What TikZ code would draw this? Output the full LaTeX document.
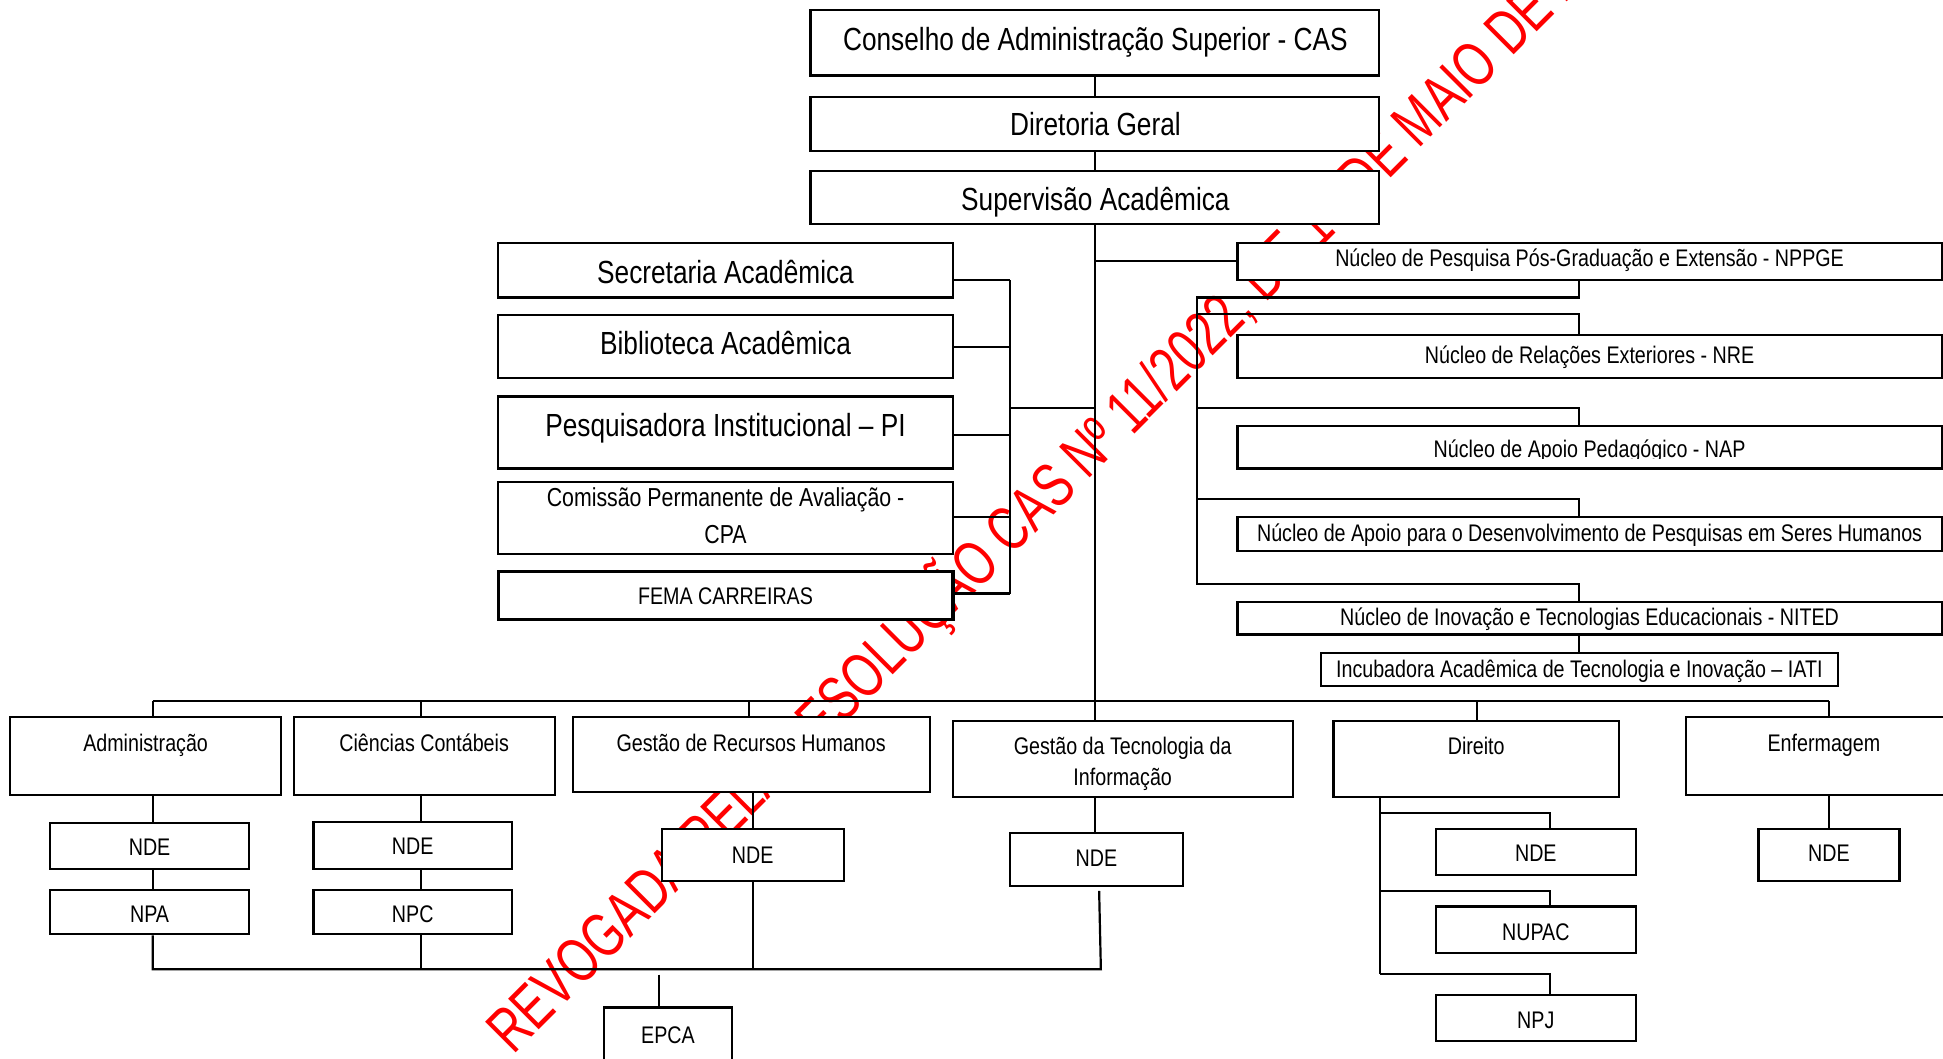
\documentclass[tikz,border=0pt]{standalone}
\usepackage{fontspec}
\setmainfont[FakeStretch=0.82]{Liberation Sans}
\newfontfamily\wmfont[FakeStretch=0.73]{Liberation Sans}
\usetikzlibrary{fit}
\newcommand\FszL{\fontsize{32bp}{38bp}\selectfont}
\newcommand\FszM{\fontsize{26bp}{31bp}\selectfont}
\newcommand\FszS{\fontsize{24bp}{29bp}\selectfont}
\newcommand\FszW{\wmfont\fontsize{63bp}{68bp}\selectfont}
\begin{document}
\begin{tikzpicture}[x=1.2392bp, y=-1.2392bp,
  box/.style={draw, line width=2.2bp, fill=white, inner sep=0pt},
  thickbox/.style={box, line width=3.2bp},
  conn/.style={line width=2.2bp},
  lblL/.style={inner sep=0pt, anchor=center, font=\FszL, text height=22.9bp, text depth=0pt},
  lblM/.style={inner sep=0pt, anchor=center, font=\FszM, text height=18.6bp, text depth=0pt},
  lblS/.style={inner sep=0pt, anchor=center, font=\FszS, text height=17.2bp, text depth=0pt},
]
\useasboundingbox (0,0) rectangle (1568,854);
\clip (0,0) rectangle (1568,854);

% watermark
\node[text=red, font=\FszW, inner sep=0pt, anchor=base west, rotate=45] (wm) at (414,852)
  {REVOGADA PELA RESOLUÇÃO CAS Nº 11/2022, DE 10 DE MAIO DE 2022};

% top
\node[box, fit={(654,8) (1113,61)}] (cas) {};
\node[box, fit={(654,78) (1113,122)}] (dg) {};
\node[box, fit={(654,138) (1113,181)}] (sa) {};

% left group
\node[box, fit={(402,196) (769,240)}] (sec) {};
\node[box, fit={(402,254) (769,305)}] (bib) {};
\node[box, fit={(402,320) (769,378)}] (pi) {};
\node[box, fit={(402,389) (769,447)}] (cpa) {};
\node[thickbox, fit={(402,461) (769,500)}] (fema) {};

% right group
\node[box, fit={(998.6,195.8) (1567,226)}] (nppge) {};
\node[box, fit={(998.6,270.5) (1567,305)}] (nre) {};
\node[box, fit={(998.6,343.5) (1567,378)}] (nap) {};
\node[box, fit={(998.6,417) (1567,444.5)}] (nadp) {};
\node[box, fit={(998.6,485.5) (1567,512)}] (nited) {};
\node[box, fit={(1066,527) (1483,553.6)}] (iati) {};

% courses
\node[box, fit={(8.3,578.3) (227,641.6)}] (adm) {};
\node[box, fit={(40.4,664) (201,701.5)}] (admN) {};
\node[box, fit={(40.4,718.2) (201,754)}] (npa) {};
\node[box, fit={(237,578.3) (447.8,641.6)}] (cc) {};
\node[box, fit={(253,663.6) (413.2,701)}] (ccN) {};
\node[box, fit={(253,718) (413.2,754)}] (npc) {};
\node[box, fit={(462.2,578.9) (750.4,639.1)}] (grh) {};
\node[box, fit={(534,668.7) (680.9,711)}] (grhN) {};
\node[box, fit={(768.8,581.6) (1043.2,643.2)}] (gti) {};
\node[box, fit={(815,672.2) (954.7,714.7)}] (gtiN) {};
\node[box, fit={(487.4,813) (590.7,880)}] (epca) {};
\node[box, fit={(1076.2,581.6) (1306.5,643.4)}] (dir) {};
\node[box, fit={(1158.8,668.7) (1320,706.4)}] (dirN) {};
\node[box, fit={(1158.8,731.6) (1320,769.3)}] (nupac) {};
\node[box, fit={(1158.8,803) (1320,839.8)}] (npj) {};
\node[box, fit={(1360.8,578.9) (1580,641.6)}] (enf) {};
\node[box, fit={(1419.1,668.7) (1532.9,711)}] (enfN) {};

% connectors top
\draw[conn] (cas.south) -- (dg.north);
\draw[conn] (dg.south) -- (sa.north);
\draw[conn] (sa.south) -- (sa.south |- gti.north);
\draw[conn] (sa.south |- nppge.west) -- (nppge.west);

% left group connectors
\coordinate (LV) at (815,226);
\coordinate (Lbib) at (815,280);
\coordinate (Lpi) at (815,351);
\coordinate (Lcpa) at (815,417);
\coordinate (LVb) at (815,479);
\coordinate (Lmid) at (815,329);
\draw[conn] (LV) -- (LVb);
\draw[conn] (sec.east |- LV) -- (LV);
\draw[conn] (bib.east |- Lbib) -- (Lbib);
\draw[conn] (pi.east |- Lpi) -- (Lpi);
\draw[conn] (cpa.east |- Lcpa) -- (Lcpa);
\draw[conn] (fema.east |- LVb) -- (LVb);
\draw[conn] (Lmid) -- (sa.south |- Lmid);

% right group connectors
\coordinate (Rtop) at (1274,240);
\coordinate (RV1) at (966,240);
\coordinate (RV2) at (966,471);
\draw[conn] (nppge.south -| Rtop) -- (Rtop) -- (RV1) -- (RV2) -- (RV2 -| Rtop) -- (nited.north -| Rtop);
\foreach \yy/\nn in {253.5/nre, 329/nap, 402.4/nadp}
  \draw[conn] (966,\yy) -- (1274,\yy) coordinate (tmp) -- (tmp |- \nn.north);
\draw[conn] (nited.south -| Rtop) -- (iati.north -| Rtop);

% bus
\coordinate (BL) at (123.2,565.7);
\coordinate (BR) at (1476,565.7);
\draw[conn] (BL) -- (BR);
\coordinate (LB) at (123.2,782.2);
\coordinate (LBr) at (888.4,782.2);
\coordinate (gtiNb) at (887,719);
\draw[conn] (BL) -- (BL |- adm.north);
\draw[conn] (BL |- adm.south) -- (BL |- admN.north);
\draw[conn] (BL |- admN.south) -- (BL |- npa.north);
\draw[conn] (BL |- npa.south) -- (LB) -- (LBr) -- (gtiNb);
\coordinate (ccX) at (339.7,565.7);
\draw[conn] (ccX) -- (ccX |- cc.north);
\draw[conn] (ccX |- cc.south) -- (ccX |- ccN.north);
\draw[conn] (ccX |- ccN.south) -- (ccX |- npc.north);
\draw[conn] (ccX |- npc.south) -- (ccX |- LB);
\coordinate (grhX) at (604.2,565.7);
\draw[conn] (grhX) -- (grhX |- grh.north);
\draw[conn] (grhN.north |- grh.south) -- (grhN.north);
\draw[conn] (grhN.south) -- (grhN.south |- LB);
\draw[conn] (sa.south |- gti.south) -- (sa.south |- gtiN.north);
\coordinate (epT) at (531.8,786.5);
\draw[conn] (epT) -- (epT |- epca.north);
\coordinate (dirX) at (1192,565.7);
\draw[conn] (dirX) -- (dirX |- dir.north);
\coordinate (DV) at (1113.6,786);
\draw[conn] (DV |- dir.south) -- (DV);
\foreach \yy/\nn in {656.3/dirN, 719/nupac, 786/npj}
  \draw[conn] (1113.6,\yy) -- (1250.8,\yy) coordinate (tmp) -- (tmp |- \nn.north);
\draw[conn] (BR) -- (BR |- enf.north);
\draw[conn] (BR |- enf.south) -- (BR |- enfN.north);

% texts
\node[lblL] (casT) at (884,31.5) {Conselho de Administração Superior - CAS};
\node[lblL] (dgT) at (884,100.1) {Diretoria Geral};
\node[lblL] (saT) at (884,160.6) {Supervisão Acadêmica};
\node[lblL] (secT) at (585.5,219.2) {Secretaria Acadêmica};
\node[lblL] (bibT) at (585.5,276.5) {Biblioteca Acadêmica};
\node[lblL] (piT) at (585.5,343) {Pesquisadora Institucional – PI};
\node[lblM] (cpaT1) at (585.5,401.2) {Comissão Permanente de Avaliação -};
\node[lblM] (cpaT2) at (585.5,431) {CPA};
\node[lblS] (femaT) at (585.5,481) {FEMA CARREIRAS};

\node[lblS] (nppgeT) at (1282.8,208) {Núcleo de Pesquisa Pós-Graduação e Extensão - NPPGE};
\node[lblS] (nreT) at (1282.8,286.5) {Núcleo de Relações Exteriores - NRE};
\begin{scope}
  \clip (998.6,343.5) rectangle (1567,370);
  \node[lblS, anchor=base] (napT) at (1282.8,369.3) {Núcleo de Apoio Pedagógico - NAP};
\end{scope}
\node[lblS] (nadpT) at (1282.8,430) {Núcleo de Apoio para o Desenvolvimento de Pesquisas em Seres Humanos};
\node[lblS] (nitedT) at (1282.8,498) {Núcleo de Inovação e Tecnologias Educacionais - NITED};
\node[lblS] (iatiT) at (1274.5,540) {Incubadora Acadêmica de Tecnologia e Inovação – IATI};

\node[lblS] (admT) at (117.5,599.3) {Administração};
\node[lblS] (admNT) at (120.7,683.5) {NDE};
\node[lblS] (npaT) at (120.7,737.6) {NPA};
\node[lblS] (ccT) at (342.3,599.3) {Ciências Contábeis};
\node[lblS] (ccNT) at (333.1,683) {NDE};
\node[lblS] (npcT) at (333.1,737.6) {NPC};
\node[lblS] (grhT) at (606.2,599.3) {Gestão de Recursos Humanos};
\node[lblS] (grhNT) at (607.4,690) {NDE};
\node[lblS] (gtiT1) at (906,601.7) {Gestão da Tecnologia da};
\node[lblS] (gtiT2) at (906,626.8) {Informação};
\node[lblS] (gtiNT) at (884.8,692.7) {NDE};
\node[lblS] (epcaT) at (539.1,835) {EPCA};
\node[lblS] (dirT) at (1191.3,602) {Direito};
\node[lblS] (dirNT) at (1239.4,688.6) {NDE};
\node[lblS] (nupacT) at (1239.4,751.8) {NUPAC};
\node[lblS] (npjT) at (1239.4,823.1) {NPJ};
\node[lblS] (enfT) at (1471.9,599.3) {Enfermagem};
\node[lblS] (enfNT) at (1476,688.6) {NDE};
\end{tikzpicture}
\end{document}
